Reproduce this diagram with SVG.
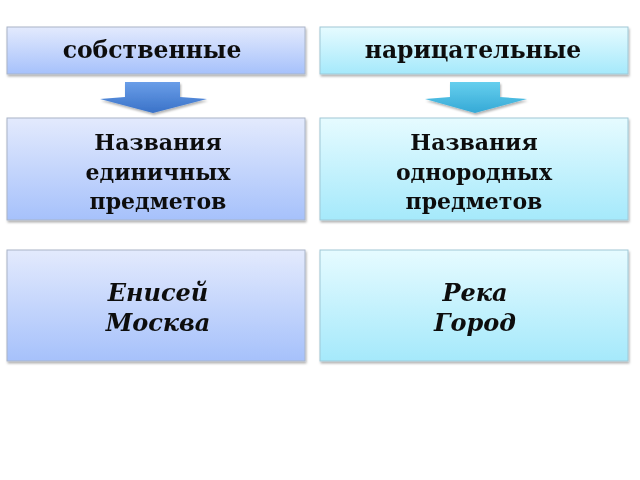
<svg xmlns="http://www.w3.org/2000/svg" width="640" height="480" viewBox="0 0 640 480">
<style>
.t{font-family:"DejaVu Serif","Liberation Serif",serif;font-weight:bold;font-size:22px;fill:#111;text-anchor:middle}
.h{font-size:23.5px}
.i{font-style:italic;font-size:24px}
.b{stroke:#a9b4c8;stroke-width:1}
.c{stroke:#9fc8d6;stroke-width:1}
</style>
<defs>
<linearGradient id="gb" x1="0" y1="0" x2="0" y2="1"><stop offset="0" stop-color="#e3eafd"/><stop offset="1" stop-color="#a6c1fb"/></linearGradient>
<linearGradient id="gc" x1="0" y1="0" x2="0" y2="1"><stop offset="0" stop-color="#e6fbff"/><stop offset="1" stop-color="#a5e9fb"/></linearGradient>
<linearGradient id="ab" x1="0" y1="0" x2="0" y2="1"><stop offset="0" stop-color="#6a9ee8"/><stop offset="1" stop-color="#3a72c8"/></linearGradient>
<linearGradient id="ac" x1="0" y1="0" x2="0" y2="1"><stop offset="0" stop-color="#66cfee"/><stop offset="1" stop-color="#35a9d6"/></linearGradient>
<filter id="sh" x="-5%" y="-10%" width="110%" height="130%"><feDropShadow dx="1" dy="2" stdDeviation="1.2" flood-color="#000" flood-opacity="0.3"/></filter>
</defs>
<g id="n1" filter="url(#sh)"><rect x="7" y="27" width="298" height="47" fill="url(#gb)" class="b"/><text class="t h" x="152" y="58">собственные</text></g>
<g id="n2" filter="url(#sh)"><rect x="320" y="27" width="308" height="47" fill="url(#gc)" class="c"/><text class="t h" x="473" y="58">нарицательные</text></g>
<g id="n3" filter="url(#sh)"><rect x="7" y="118" width="298" height="102" fill="url(#gb)" class="b"/><text class="t" x="158" y="150">Названия<tspan x="158" dy="30">единичных</tspan><tspan x="158" dy="29">предметов</tspan></text></g>
<g id="n4" filter="url(#sh)"><rect x="320" y="118" width="308" height="102" fill="url(#gc)" class="c"/><text class="t" x="474" y="150">Названия<tspan x="474" dy="30">однородных</tspan><tspan x="474" dy="29">предметов</tspan></text></g>
<g id="n5" filter="url(#sh)"><rect x="7" y="250" width="298" height="111" fill="url(#gb)" class="b"/><text class="t i" x="158" y="301">Енисей<tspan x="158" dy="30">Москва</tspan></text></g>
<g id="n6" filter="url(#sh)"><rect x="320" y="250" width="308" height="111" fill="url(#gc)" class="c"/><text class="t i" x="475" y="301">Река<tspan x="475" dy="30">Город</tspan></text></g>
<g id="connectors" filter="url(#sh)">
<path d="M125 82 L180 82 L180 97 L207 99 L153 113 L100 99 L125 97 Z" fill="url(#ab)"/>
<path d="M450 82 L500 82 L500 97 L527 99 L475 113 L425 99 L450 97 Z" fill="url(#ac)"/>
</g>
</svg>
